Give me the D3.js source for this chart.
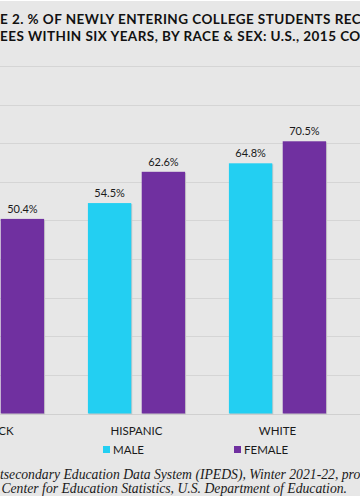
<!DOCTYPE html>
<html>
<head>
<meta charset="utf-8">
<script src="https://cdn.jsdelivr.net/npm/d3@7"></script>
<style>
  html, body { margin: 0; padding: 0; background: #ffffff; }
  svg { display: block; }
  text { font-family: Lato, "Open Sans", sans-serif; fill: #1a1a1a; }
  text.src { font-family: "Liberation Serif", "Times New Roman", serif; font-style: italic; }
</style>
</head>
<body>
<svg id="chart"></svg>
<script>
// data
const races = ["BLACK", "HISPANIC", "WHITE"];
const sexes = ["MALE", "FEMALE"];
const maleValues = [43.4, 54.5, 64.8];   // black male bar is off-canvas in the crop
const femaleValues = [50.4, 62.6, 70.5];
const yTicks = [10, 20, 30, 40, 50, 60, 70, 80, 90];

const titleLines = [
  { text: "FIGURE 2. % OF NEWLY ENTERING COLLEGE STUDENTS RECEIVING", hidden: "FIGUR" },
  { text: "DEGREES WITHIN SIX YEARS, BY RACE & SEX: U.S., 2015 COHORT", hidden: "DEGR" }
];
const sourceLine1 = "Source: Integrated Postsecondary Education Data System (IPEDS), Winter 2021-22, provisional data;";
const sourceHidden1 = "Source: Integrated Pos";
const sourceLine2 = "National Center for Education Statistics, U.S. Department of Education.";

const colors = { MALE: "#23cff2", FEMALE: "#7030a0" };

const W = 360, H = 499;
const svg = d3.select("#chart").attr("width", W).attr("height", H);

// background
svg.append("rect").attr("width", W).attr("height", H).attr("fill", "#ffffff");
svg.append("rect").attr("x", 0).attr("y", 1).attr("width", W).attr("height", 495).attr("fill", "#e7e7e7");

const rows = races.map((r, i) => ({ race: r, MALE: maleValues[i], FEMALE: femaleValues[i] }));

const x = d3.scaleBand().domain(races).range([-75, 348]);
const xSub = d3.scaleBand().domain(sexes).range([0, x.bandwidth()])
  .paddingInner(0.194).paddingOuter(0.407);
const y = d3.scaleLinear().domain([0, 90]).range([413.5, 66]);

// gridlines
svg.append("g").selectAll("line")
  .data(yTicks)
  .join("line")
  .attr("x1", 0).attr("x2", W)
  .attr("y1", d => Math.round(y(d)) + 0.5)
  .attr("y2", d => Math.round(y(d)) + 0.5)
  .attr("stroke", "#d5d5d5")
  .attr("stroke-width", 1);

// baseline
svg.append("line")
  .attr("x1", 0).attr("x2", W)
  .attr("y1", Math.round(y(0)) + 0.5).attr("y2", Math.round(y(0)) + 0.5)
  .attr("stroke", "#d0d0d0");

// bars
const group = svg.append("g").selectAll(".grp")
  .data(rows)
  .join("g")
  .attr("class", "grp")
  .attr("transform", d => `translate(${x(d.race)},0)`);

const bars = group.selectAll(".bar")
  .data(d => sexes.map(s => ({ sex: s, value: d[s] })))
  .join("g")
  .attr("class", "bar");

// soft shadow
bars.append("rect")
  .attr("x", d => xSub(d.sex) + 1)
  .attr("y", d => y(d.value) + 1)
  .attr("width", xSub.bandwidth())
  .attr("height", d => y(0) - y(d.value))
  .attr("fill", "#c8c8c8");

bars.append("rect")
  .attr("x", d => xSub(d.sex))
  .attr("y", d => y(d.value))
  .attr("width", xSub.bandwidth())
  .attr("height", d => y(0) - y(d.value))
  .attr("fill", d => colors[d.sex]);

bars.append("text")
  .attr("x", d => xSub(d.sex) + xSub.bandwidth() / 2)
  .attr("y", d => y(d.value) - 6)
  .attr("text-anchor", "middle")
  .attr("font-size", "11px")
  .text(d => d.value.toFixed(1) + "%");

// category labels
svg.append("g").selectAll("text")
  .data(races)
  .join("text")
  .attr("x", d => x(d) + x.bandwidth() / 2)
  .attr("y", 435)
  .attr("text-anchor", "middle")
  .attr("font-size", "11.5px")
  .text(d => d);

// legend
const legendPos = [{ sex: "MALE", x: 103 }, { sex: "FEMALE", x: 234 }];
const leg = svg.append("g").selectAll("g")
  .data(legendPos)
  .join("g")
  .attr("transform", d => `translate(${d.x},446)`);
leg.append("rect")
  .attr("width", 7).attr("height", 7)
  .attr("fill", d => colors[d.sex]);
leg.append("text")
  .attr("x", 10).attr("y", 7.5)
  .attr("font-size", "11.5px")
  .text(d => d.sex);

// helper: width of a string in a given style
function measure(str, attrs, cls) {
  const t = svg.append("text").attr("class", cls || null).text(str);
  Object.entries(attrs).forEach(([k, v]) => t.attr(k, v));
  const w = t.node().getComputedTextLength();
  t.remove();
  return w;
}

// title (cropped on both sides)
const titleStyle = { "font-size": "13.5px", "font-weight": "bold", "letter-spacing": "0.45px" };
titleLines.forEach((ln, i) => {
  const off = measure(ln.hidden, titleStyle);
  const t = svg.append("text")
    .attr("x", -off)
    .attr("y", 24 + i * 17)
    .style("fill", "#111")
    .text(ln.text);
  Object.entries(titleStyle).forEach(([k, v]) => t.attr(k, v));
});

// source note
const srcStyle = { "font-size": "13.7px" };
const off1 = measure(sourceHidden1, srcStyle, "src");
const s1 = svg.append("text").attr("class", "src").attr("x", -off1).attr("y", 479).text(sourceLine1);
Object.entries(srcStyle).forEach(([k, v]) => s1.attr(k, v));
const s2 = svg.append("text").attr("class", "src").attr("x", 347).attr("y", 492.5)
  .attr("text-anchor", "end").text(sourceLine2);
Object.entries(srcStyle).forEach(([k, v]) => s2.attr(k, v));
</script>
</body>
</html>
